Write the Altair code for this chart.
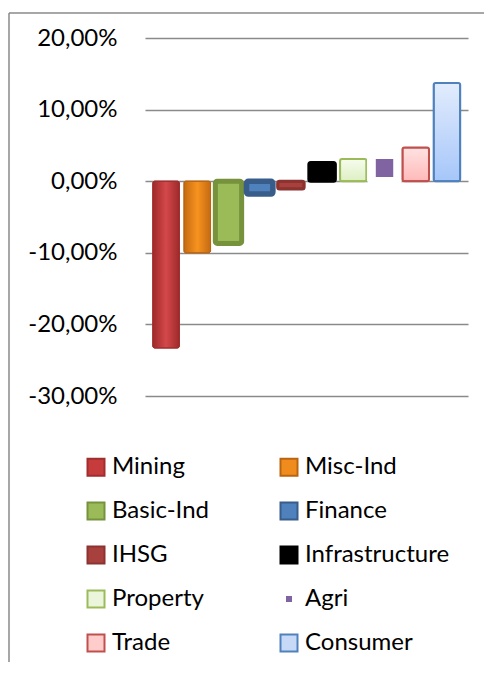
import altair as alt
import pandas as pd

sectors = ["Mining", "Misc-Ind", "Basic-Ind", "Finance", "IHSG",
           "Infrastructure", "Property", "Agri", "Trade", "Consumer"]
returns = [-23.3, -10.0, -8.7, -1.8, -1.1, 2.6, 3.1, 3.7, 4.7, 13.7]
fills = ["#C63B3B", "#F08C1E", "#9BBB59", "#4F81BD", "#A8403D",
         "#000000", "#EBF5DC", "#8064A2", "#FFCCCC", "#C6D9F6"]
strokes = ["#A02E2E", "#B9650F", "#76923C", "#385D8A", "#8C3331",
           "#000000", "#9BBB59", "#FFFFFF", "#C0504D", "#4F81BD"]
stroke_widths = [1, 1, 4.8, 5.4, 3, 3, 2, 8.6, 2, 2]
legend_sizes = [289, 289, 289, 289, 289, 289, 289, 64, 289, 289]
y_ticks = [-30, -20, -10, 0, 10, 20]

# legend reads column by column: two columns of five
legend_order = ["Mining", "Basic-Ind", "IHSG", "Property", "Trade",
                "Misc-Ind", "Finance", "Infrastructure", "Agri", "Consumer"]

df = pd.DataFrame({"sector": sectors, "ret": returns})

idx = {s: i for i, s in enumerate(sectors)}
leg_fills = [fills[idx[s]] for s in legend_order]
leg_strokes = [strokes[idx[s]] for s in legend_order]
leg_sizes = [legend_sizes[idx[s]] for s in legend_order]

label_expr = ("(datum.value < 0 ? '-' : '') + "
              "replace(format(abs(datum.value), '.2f'), '.', ',') + '%'")

x_enc = alt.X("sector:N", sort=sectors, axis=None,
              scale=alt.Scale(paddingInner=0.15, paddingOuter=0.25))
y_enc = alt.Y("ret:Q", scale=alt.Scale(domain=[-30, 20], nice=False, zero=False),
              axis=alt.Axis(values=y_ticks, labelExpr=label_expr, title=None,
                            domain=False, ticks=False, labelPadding=28,
                            labelFont="Lato", labelFontSize=24, labelColor="#000000",
                            grid=True, gridColor="#8a8a8a", gridWidth=1.5))

# base bars: carry the colour legend
bars = alt.Chart(df).mark_bar(cornerRadius=2).encode(
    x=x_enc,
    y=y_enc,
    fill=alt.Fill("sector:N", scale=alt.Scale(domain=legend_order, range=leg_fills),
                  legend=alt.Legend(title=None)),
    stroke=alt.Stroke("sector:N", scale=alt.Scale(domain=legend_order, range=leg_strokes),
                      legend=alt.Legend(title=None)),
)

# empty layer that only gives the legend its symbol sizes
legend_sizer = alt.Chart(df).transform_filter("false").mark_point(
    shape="square", filled=True).encode(
    size=alt.Size("sector:N",
                  scale=alt.Scale(type="ordinal", domain=legend_order, range=leg_sizes),
                  legend=alt.Legend(title=None)),
)

# per-bar styling (gradient fills, border widths)
gradients = {
    "Mining": (["#9E2A2A", "#D4484A", "#9E2A2A"], "h"),
    "Misc-Ind": (["#C46A12", "#F7931E", "#C46A12"], "h"),
    "Property": (["#F7FCEE", "#DDEFC2"], "v"),
    "Trade": (["#FFE2E2", "#FFB9B9"], "v"),
    "Consumer": (["#E2ECFD", "#A6C6F9"], "v"),
}

overlays = []
for name in sectors:
    i = idx[name]
    if name in gradients:
        cols, direction = gradients[name]
        n = len(cols)
        stops = [alt.GradientStop(color=c, offset=k / (n - 1)) for k, c in enumerate(cols)]
        if direction == "h":
            fill = alt.LinearGradient(gradient="linear", stops=stops, x1=0, x2=1, y1=0, y2=0)
        else:
            fill = alt.LinearGradient(gradient="linear", stops=stops, x1=0, x2=0, y1=0, y2=1)
    else:
        fill = fills[i]
    overlays.append(
        alt.Chart(df).transform_filter(alt.datum.sector == name).mark_bar(
            cornerRadius=2, fill=fill, stroke=strokes[i],
            strokeWidth=stroke_widths[i]).encode(x=x_enc, y=y_enc)
    )

frame_df = pd.DataFrame({"a": [0]})
left_line = alt.Chart(frame_df).mark_rule(color="#8a8a8a", strokeWidth=1.5).encode(
    x=alt.value(-136), y=alt.value(-25), y2=alt.value(640))
top_line = alt.Chart(frame_df).mark_rule(color="#8a8a8a", strokeWidth=1.5).encode(
    x=alt.value(-136), x2=alt.value(400), y=alt.value(-25))

chart = alt.layer(bars, legend_sizer, *overlays, left_line, top_line).properties(
    width=323, height=358,
    autosize=alt.AutoSizeParams(type="none"),
    padding={"left": 137, "top": 30, "right": 16, "bottom": 266},
).configure_view(stroke=None).configure_legend(
    orient="none", legendX=-61, legendY=417, columns=2,
    symbolType="square", symbolStrokeWidth=2, labelFont="Lato", labelFontSize=24,
    labelColor="#000000", labelOffset=4, rowPadding=18, columnPadding=67,
    gridAlign="each", labelLimit=300,
)

chart.save("out.html", embed_options={"renderer": "svg", "actions": False})
